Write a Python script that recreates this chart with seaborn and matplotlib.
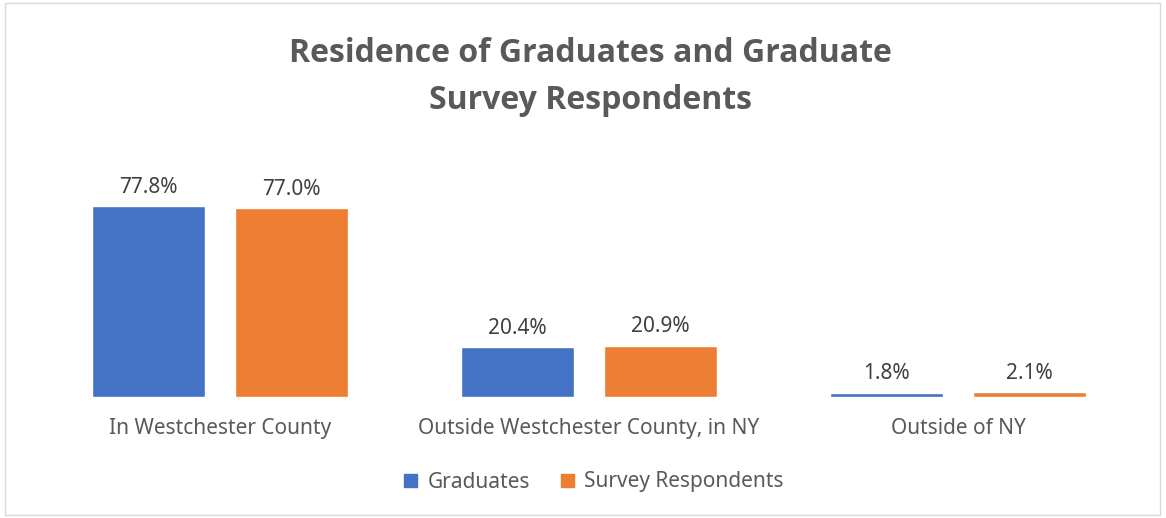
import matplotlib
matplotlib.use('Agg')
import matplotlib.pyplot as plt
import seaborn as sns
import pandas as pd
from matplotlib.patches import Rectangle

categories = ['In Westchester County', 'Outside Westchester County, in NY', 'Outside of NY']
series = ['Graduates', 'Survey Respondents']
graduates = [77.8, 20.4, 1.8]
respondents = [77.0, 20.9, 2.1]
colors = ['#4472C4', '#ED7D31']

df = pd.DataFrame({
    'category': categories * 2,
    'series': [series[0]] * 3 + [series[1]] * 3,
    'value': graduates + respondents,
})

sns.set_style('white')
plt.rcParams['font.family'] = ['Noto Sans', 'DejaVu Sans']
grey = '#595959'

W, H = 1166, 518
fig = plt.figure(figsize=(W / 100, H / 100), dpi=100)
ax = fig.add_axes([35.5 / W, (H - 397) / H, (1142.5 - 35.5) / W, 221 / H])

sns.barplot(data=df, x='category', y='value', hue='series', palette=colors,
            width=0.775, gap=0.21, ax=ax, legend=False, saturation=1)
ax.set_ylim(0, 90)
ax.set_xlim(-0.5, 2.5)
for c in ax.containers:
    ax.bar_label(c, fmt='%.1f%%', padding=6, fontsize=15, color='#404040')

ax.set_xlabel('')
ax.set_ylabel('')
ax.set_yticks([])
ax.tick_params(axis='x', length=0, pad=15, labelsize=15, labelcolor=grey)
for s in ax.spines.values():
    s.set_visible(False)

fig.text(590 / W, 1 - 77 / H, 'Residence of Graduates and Graduate\nSurvey Respondents',
         ha='center', va='center', fontsize=23, fontweight='bold', color=grey,
         linespacing=1.55, family=['Open Sans', 'Lato', 'DejaVu Sans'])

handles = [Rectangle((0, 0), 1, 1, color=c) for c in colors]
fig.legend(handles, series, loc='center', bbox_to_anchor=(594 / W, 1 - 482 / H),
           ncol=2, frameon=False, fontsize=15, labelcolor=grey,
           handlelength=0.6, handleheight=0.6, handletextpad=0.5, columnspacing=1.5)

fig.patches.append(Rectangle((5 / W, 3 / H), 1155 / W, 512 / H, transform=fig.transFigure,
                             fill=False, edgecolor='#D9D9D9', linewidth=1))

fig.savefig('out.png', dpi=100)
